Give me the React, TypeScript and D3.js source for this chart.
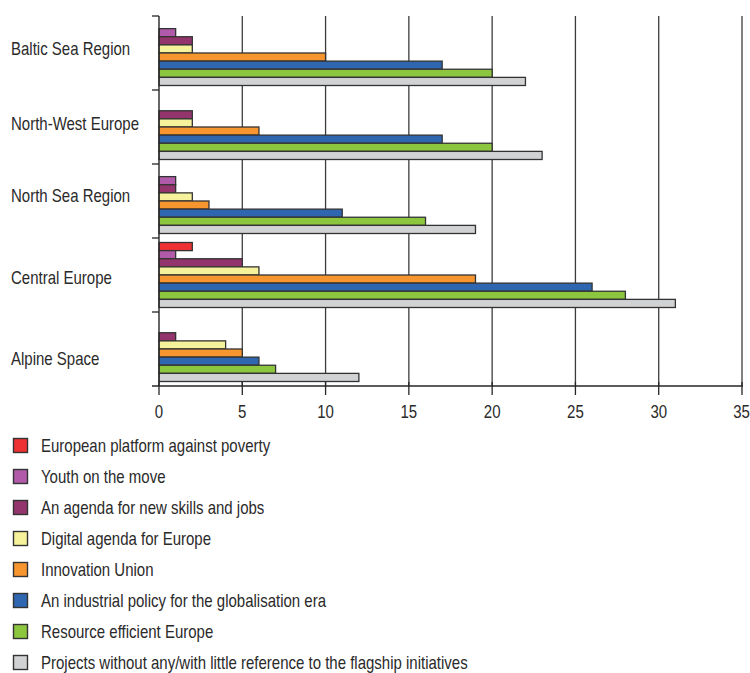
import React from "react";
import * as d3 from "d3";

const regions = ["Baltic Sea Region", "North-West Europe", "North Sea Region", "Central Europe", "Alpine Space"];

const seriesNames = [
  "European platform against poverty",
  "Youth on the move",
  "An agenda for new skills and jobs",
  "Digital agenda for Europe",
  "Innovation Union",
  "An industrial policy for the globalisation era",
  "Resource efficient Europe",
  "Projects without any/with little reference to the flagship initiatives",
];

const seriesColors = ["#ee3233", "#b05aa9", "#93356c", "#f5f29b", "#f7952f", "#2f66b0", "#8cc63f", "#d1d2d4"];

// values per series, in order of regions
const povertyValues = [0, 0, 0, 2, 0];
const youthValues = [1, 0, 1, 1, 0];
const skillsValues = [2, 2, 1, 5, 1];
const digitalValues = [2, 2, 2, 6, 4];
const innovationValues = [10, 6, 3, 19, 5];
const industrialValues = [17, 17, 11, 26, 6];
const resourceValues = [20, 20, 16, 28, 7];
const projectsValues = [22, 23, 19, 31, 12];

const seriesValues = [
  povertyValues, youthValues, skillsValues, digitalValues,
  innovationValues, industrialValues, resourceValues, projectsValues,
];

const xTicks = [0, 5, 10, 15, 20, 25, 30, 35];

// layout constants (label baseline offsets relative to band centre)
const labelDy = [2, 2.5, 0.5, 8.5, 16];

const FONT = "'Liberation Sans', Arial, sans-serif";
const FS = 18.3;
const SX = 0.82; // horizontal condensing to mimic a narrow face

function T({ x, y, anchor, children }: { x: number; y: number; anchor?: string; children: React.ReactNode }) {
  return (
    <text
      transform={`translate(${x},${y}) scale(${SX},1)`}
      textAnchor={anchor || "start"}
      fontSize={FS}
      fill="#2a2a2a"
    >
      {children}
    </text>
  );
}

export default function App() {
  const W = 750, H = 673;
  const x = d3.scaleLinear().domain([0, 35]).range([159, 742]);
  const y = d3.scaleBand<string>().domain(regions).range([16, 386]).paddingInner(0);
  const bw = y.bandwidth();
  const inner = d3.scaleBand<number>().domain(d3.range(seriesNames.length)).range([4.5, bw - 4.5]);
  const ih = inner.bandwidth();
  const legendY = d3.scaleLinear().domain([0, 1]).range([445.5, 476.5]);

  const axisColor = "#262626";
  const gridColor = "#3c3c3c";

  return (
    <svg width={W} height={H} style={{ position: "absolute", left: 0, top: 0, display: "block", background: "#fff" }} fontFamily={FONT}>
      {/* grid lines */}
      {xTicks.slice(1).map((t) => (
        <line key={"g" + t} x1={x(t)} x2={x(t)} y1={16} y2={386} stroke={gridColor} strokeWidth={1.3} />
      ))}
      {/* bars */}
      {regions.map((r, ri) => (
        <g key={r} transform={`translate(0,${y(r)})`}>
          {seriesValues.map((vals, si) =>
            vals[ri] > 0 ? (
              <rect
                key={si}
                x={x(0)}
                y={inner(si)}
                width={x(vals[ri]) - x(0)}
                height={ih}
                fill={seriesColors[si]}
                stroke="#333"
                strokeWidth={1.3}
              />
            ) : null
          )}
        </g>
      ))}
      {/* y axis */}
      <line x1={x(0)} x2={x(0)} y1={16} y2={386} stroke={axisColor} strokeWidth={1.4} />
      {regions.map((r) => (
        <line key={"yt" + r} x1={152} x2={x(0)} y1={y(r)} y2={y(r)} stroke={axisColor} strokeWidth={1.3} />
      ))}
      {/* x axis */}
      <line x1={152} x2={x(35) + 1} y1={386} y2={386} stroke={axisColor} strokeWidth={1.4} />
      {xTicks.map((t) => (
        <g key={"xt" + t}>
          <line x1={x(t)} x2={x(t)} y1={382} y2={395} stroke={axisColor} strokeWidth={1.3} />
          <T x={t === 35 ? x(t) - 0.5 : x(t)} y={418} anchor="middle">{t}</T>
        </g>
      ))}
      {/* region labels */}
      {regions.map((r, i) => (
        <T key={"rl" + r} x={11} y={(y(r) as number) + bw / 2 + labelDy[i]}>{r}</T>
      ))}
      {/* legend */}
      {seriesNames.map((s, i) => {
        const cy = legendY(i);
        return (
          <g key={"lg" + i}>
            <rect x={13.5} y={cy - 7} width={14} height={14} fill={seriesColors[i]} stroke="#333" strokeWidth={1.4} />
            <T x={41} y={cy + 6.8}>{s}</T>
          </g>
        );
      })}
    </svg>
  );
}
